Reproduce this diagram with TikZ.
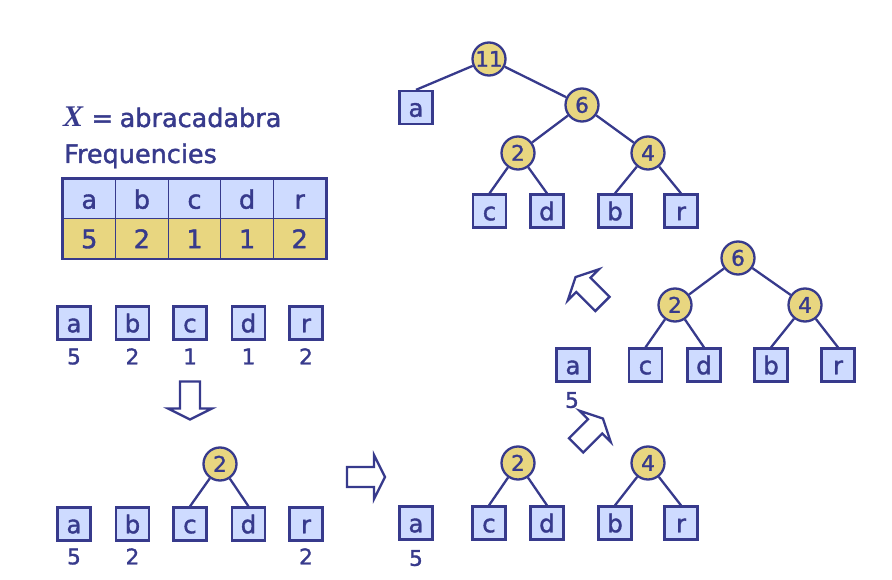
\documentclass[tikz,border=0pt]{standalone}
\usepackage{fontspec}
\setmainfont{DejaVu Sans}[FakeBold=1.5]
\newfontfamily\serifx{Liberation Serif}
\definecolor{navy}{RGB}{55,58,140}
\definecolor{leafblue}{RGB}{206,219,255}
\definecolor{gold}{RGB}{232,214,128}
\tikzset{
  leaf/.style={draw=navy, fill=leafblue, line width=2.3pt, minimum size=33pt, inner sep=0pt,
    text=navy, font=\fontsize{24.5}{24.5}\selectfont, text height=18.5pt, text depth=0pt},
  inode/.style={circle, draw=navy, fill=gold, line width=2.3pt, minimum size=33pt, inner sep=0pt,
    text=navy, font=\fontsize{21.5}{21.5}\selectfont, text height=15.5pt, text depth=0pt},
  freq/.style={text=navy, inner sep=0pt, font=\fontsize{21.5}{21.5}\selectfont, text height=15.6pt, text depth=0pt},
  edge/.style={draw=navy, line width=2.3pt},
  cell/.style={draw=navy, line width=1.3pt, minimum width=52.6pt, minimum height=39.5pt, inner sep=0pt,
    text=navy, font=\fontsize{25.5}{25.5}\selectfont, text height=19.3pt, text depth=0pt},
  titletext/.style={text=navy, inner sep=0pt, anchor=base west},
  pics/blockarrow/.style={code={
    \draw[navy, line width=2.3pt, fill=white, line join=miter]
      (-19,-10) -- (8,-10) -- (8,-22) -- (19,0) -- (8,22) -- (8,10) -- (-19,10) -- cycle;}}
}
\begin{document}
\begin{tikzpicture}[x=1pt, y=-1pt]
\useasboundingbox (0,0) rectangle (892,580);

% title
\node[titletext, font=\fontsize{30}{30}\selectfont\serifx\bfseries\itshape] (tx) at (63,127) {X};
\node[titletext, font=\fontsize{25.5}{25.5}\selectfont] (teq) at (91.5,127) {=};
\node[titletext, font=\fontsize{25.5}{25.5}\selectfont] (tword) at (119.5,127) {abracadabra};
\node[titletext, font=\fontsize{25.5}{25.5}\selectfont] (tfreq) at (64,163) {Frequencies};

% table
\foreach \i/\l/\n in {1/a/5,2/b/2,3/c/1,4/d/1,5/r/2}{
  \node[cell, fill=leafblue] (h\i) at ({63+52.6*(\i-0.5)},199) {\l};
  \node[cell, fill=gold] (v\i) at ({63+52.6*(\i-0.5)},238.5) {\n};
}
\draw[navy, line width=2.5pt] (h1.north west) rectangle (v5.south east);

% row 1
\foreach \i/\l/\x/\n in {1/a/74/5,2/b/132.5/2,3/c/190/1,4/d/248.5/1,5/r/306/2}{
  \node[leaf] (r\i) at (\x,323) {\l};
  \node[freq] (rn\i) at (\x,356.5) {\n};
}

% down arrow
\pic[rotate=-90] at (190,400.5) {blockarrow};

% row 2 (bottom left)
\node[leaf] (sa) at (74,524) {a};
\node[leaf] (sb) at (132.5,524) {b};
\node[leaf] (sc) at (190,524) {c};
\node[leaf] (sd) at (248.5,524) {d};
\node[leaf] (sr) at (306,524) {r};
\node[inode] (s2) at (220,464) {2};
\draw[edge] (s2) -- (sc.north);
\draw[edge] (s2) -- (sd.north);
\node[freq] (sna) at (74,556.5) {5};
\node[freq] (snb) at (132.5,556.5) {2};
\node[freq] (snr) at (306,556.5) {2};

% right arrow
\pic at (366,477) {blockarrow};

% bottom right
\node[leaf] (ba) at (416,523) {a};
\node[leaf] (bc) at (489,523) {c};
\node[leaf] (bd) at (547,523) {d};
\node[leaf] (bb) at (615,523) {b};
\node[leaf] (br) at (681,523) {r};
\node[inode] (b2) at (518,463) {2};
\node[inode] (b4) at (648,463) {4};
\draw[edge] (b2) -- (bc.north);
\draw[edge] (b2) -- (bd.north);
\draw[edge] (b4) -- (bb.north);
\draw[edge] (b4) -- (br.north);
\node[freq] (bna) at (416,558) {5};

% up-right arrow
\pic[rotate=45] at (589.5,432) {blockarrow};

% middle right
\node[leaf] (ma) at (573,365) {a};
\node[leaf] (mc) at (645.5,365) {c};
\node[leaf] (md) at (704,365) {d};
\node[leaf] (mb) at (771,365) {b};
\node[leaf] (mr) at (838,365) {r};
\node[inode] (m6) at (738,258) {6};
\node[inode] (m2) at (675,305) {2};
\node[inode] (m4) at (805,305) {4};
\draw[edge] (m6) -- (m2);
\draw[edge] (m6) -- (m4);
\draw[edge] (m2) -- (mc.north);
\draw[edge] (m2) -- (md.north);
\draw[edge] (m4) -- (mb.north);
\draw[edge] (m4) -- (mr.north);
\node[freq] (mna) at (572,400) {5};

% up-left arrow
\pic[rotate=135] at (589,290.5) {blockarrow};

% top tree
\node[inode] (t11) at (489,59) {11};
\node[leaf] (ta) at (416,107.5) {a};
\node[inode] (t6) at (582,105) {6};
\node[inode] (t2) at (518,153) {2};
\node[inode] (t4) at (648,153) {4};
\node[leaf] (tc) at (489.5,211) {c};
\node[leaf] (td) at (547,211) {d};
\node[leaf] (tb) at (615,211) {b};
\node[leaf] (tr) at (681,211) {r};
\draw[edge] (t11) -- (ta.north);
\draw[edge] (t11) -- (t6);
\draw[edge] (t6) -- (t2);
\draw[edge] (t6) -- (t4);
\draw[edge] (t2) -- (tc.north);
\draw[edge] (t2) -- (td.north);
\draw[edge] (t4) -- (tb.north);
\draw[edge] (t4) -- (tr.north);
\end{tikzpicture}
\end{document}
